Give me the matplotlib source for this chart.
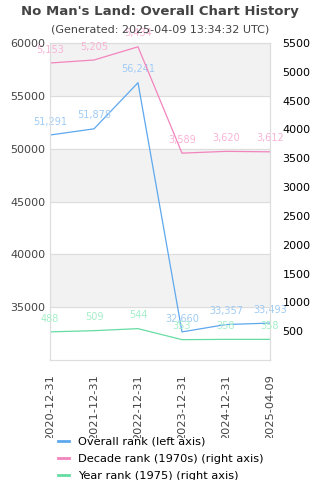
import matplotlib
matplotlib.use("Agg")
import matplotlib.pyplot as plt
from matplotlib.transforms import Bbox, TransformedBbox

dates = ["2020-12-31", "2021-12-31", "2022-12-31", "2023-12-31", "2024-12-31", "2025-04-09"]
overall = [51291, 51878, 56241, 32660, 33357, 33493]
decade = [5153, 5205, 5434, 3589, 3620, 3612]
year = [488, 509, 544, 353, 358, 358]

c_over, c_over_l = "#5ea8ee", "#9fcbf5"
c_dec, c_dec_l = "#f284bd", "#f8b4d6"
c_year, c_year_l = "#66dca2", "#a6eec9"

fig = plt.figure(figsize=(3.2, 4.8), dpi=100)
ax = fig.add_axes([50/320, 1 - 360/480, 220/320, 317/480])
ax2 = ax.twinx()

x = list(range(len(dates)))
ax.set_ylim(30000, 60000)
ax2.set_ylim(0, 5500)
ax.set_xlim(0, len(dates) - 1)

for lo in [55000, 45000, 35000]:
    ax.axhspan(lo, lo + 5000, color="#f2f2f2", zorder=0)
ax.set_yticks([35000, 40000, 45000, 50000, 55000, 60000])
ax.yaxis.grid(True, color="#dddddd", linewidth=0.8)
ax.set_axisbelow(True)
ax2.set_yticks([500, 1000, 1500, 2000, 2500, 3000, 3500, 4000, 4500, 5000, 5500])

l1, = ax.plot(x, overall, color=c_over, linewidth=0.9, label="Overall rank (left axis)")
l2, = ax2.plot(x, decade, color=c_dec, linewidth=0.9, label="Decade rank (1970s) (right axis)")
l3, = ax2.plot(x, year, color=c_year, linewidth=0.9, label="Year rank (1975) (right axis)")

for xi, v in zip(x, overall):
    ax.annotate(f"{v:,}", (xi, v), xytext=(0, 6), textcoords="offset points",
                ha="center", va="bottom", fontsize=7, color=c_over_l, annotation_clip=False)
for xi, v in zip(x, decade):
    ax2.annotate(f"{v:,}", (xi, v), xytext=(0, 6), textcoords="offset points",
                 ha="center", va="bottom", fontsize=7, color=c_dec_l, annotation_clip=False)
for xi, v in zip(x, year):
    ax2.annotate(f"{v:,}", (xi, v), xytext=(0, 6), textcoords="offset points",
                 ha="center", va="bottom", fontsize=7, color=c_year_l, annotation_clip=False)

ax.set_xticks(x)
ax.set_xticklabels(dates, rotation=90, fontsize=8.2, color="#444444")
ax.tick_params(axis="y", labelsize=8, labelcolor="#444444", length=0)
ax.tick_params(axis="x", length=0, pad=10.5)
ax2.tick_params(axis="y", labelsize=8, labelcolor="#000000", length=0, pad=9)
for a in (ax, ax2):
    for s in a.spines.values():
        s.set_color("#dddddd")

clip = TransformedBbox(Bbox([[0, 42/480], [1, 1]]), fig.transFigure)
for lab in ax.get_xticklabels():
    lab.set_clip_on(True)
    lab.set_clip_box(clip)

fig.text(0.5, 1 - 11/480, "No Man's Land: Overall Chart History", ha="center", va="center",
         fontsize=9.5, fontweight="bold", color="#444444")
fig.text(0.5, 1 - 30/480, "(Generated: 2025-04-09 13:34:32 UTC)", ha="center", va="center",
         fontsize=8, color="#444444")

leg = fig.legend(handles=[l1, l2, l3], loc="upper left", bbox_to_anchor=(53/320, 1 - 432/480),
                 frameon=False, fontsize=8.2, handlelength=1.0, labelspacing=0.65, borderaxespad=0)
for h in leg.legend_handles:
    h.set_linewidth(2)

fig.savefig("out.png", dpi=100)
